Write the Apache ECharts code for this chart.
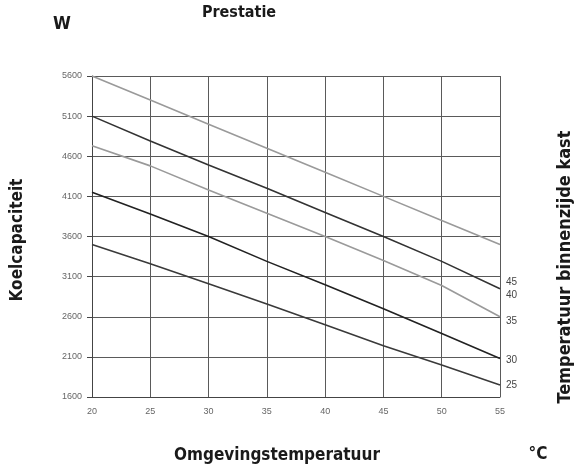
<!DOCTYPE html>
<html>
<head>
<meta charset="utf-8">
<script src="https://cdn.jsdelivr.net/npm/echarts@6/dist/echarts.min.js"></script>
<style>html,body{margin:0;padding:0;background:#fff}#c{width:576px;height:473px}</style>
</head>
<body>
<div id="c"></div>
<script>
const temps = [20, 25, 30, 35, 40, 45, 50, 55];
const s45 = [5600, 5300, 5000, 4700, 4400, 4100, 3800, 3500];
const s40 = [5100, 4790, 4490, 4200, 3900, 3600, 3290, 2950];
const s35 = [4730, 4480, 4180, 3890, 3600, 3300, 2990, 2600];
const s30 = [4150, 3880, 3600, 3290, 3000, 2700, 2390, 2080];
const s25 = [3500, 3260, 3010, 2760, 2500, 2240, 2000, 1750];
const seriesNames = ['45', '40', '35', '30', '25'];
const seriesData = [s45, s40, s35, s30, s25];
const yTicks = [1600, 2100, 2600, 3100, 3600, 4100, 4600, 5100, 5600];

const colors = ['#9a9a9a', '#333333', '#9a9a9a', '#222222', '#3a3a3a'];
const labelOffsets = [[0, 38], [0, 7], [0, 4], [0, 2], [0, 0]];
const boldFont = "'DejaVu Sans Condensed', 'Liberation Sans Narrow', sans-serif";

const chart = echarts.init(document.getElementById('c'));
chart.setOption({
  animation: false,
  backgroundColor: '#fff',
  title: {
    text: 'Prestatie', left: 234, top: 0, textAlign: 'center',
    textStyle: { fontFamily: boldFont, fontWeight: 'bold', fontSize: 16, color: '#1a1a1a' }
  },
  grid: { left: 92, right: 76, top: 76, bottom: 76 },
  xAxis: {
    type: 'value', min: 20, max: 55, interval: 5,
    axisLine: { show: true, lineStyle: { color: '#444', width: 1 } },
    axisTick: { show: false },
    axisLabel: { margin: 10, fontSize: 9, color: '#666', fontFamily: 'Liberation Sans' },
    splitLine: { show: true, lineStyle: { color: '#5a5a5a', width: 1 } }
  },
  yAxis: {
    type: 'value', min: yTicks[0], max: yTicks[yTicks.length - 1], interval: 500,
    axisLine: { show: true, lineStyle: { color: '#444', width: 1 } },
    axisTick: { show: true, inside: false, length: 5, lineStyle: { color: '#444' } },
    axisLabel: { margin: 10, fontSize: 9, color: '#666', fontFamily: 'Liberation Sans', formatter: v => String(v) },
    splitLine: { show: true, lineStyle: { color: '#5a5a5a', width: 1 } }
  },
  series: seriesNames.map((n, i) => ({
    name: n, type: 'line', symbol: 'none',
    data: temps.map((t, j) => [t, seriesData[i][j]]),
    lineStyle: { color: colors[i], width: 1.6 },
    endLabel: {
      show: true, formatter: n, distance: 6, offset: labelOffsets[i],
      fontSize: 10, color: '#444', fontFamily: 'Liberation Sans'
    }
  })),
  graphic: [
    { type: 'text', left: 53, top: 15, style: { text: 'W', font: "bold 18px " + boldFont, fill: '#1a1a1a' } },
    { type: 'text', x: 18, y: 240, rotation: Math.PI / 2,
      style: { text: 'Koelcapaciteit', font: "bold 17px " + boldFont, fill: '#1a1a1a', align: 'center', verticalAlign: 'middle' } },
    { type: 'text', x: 565, y: 267, rotation: Math.PI / 2,
      style: { text: 'Temperatuur binnenzijde kast', font: "bold 18px " + boldFont, fill: '#1a1a1a', align: 'center', verticalAlign: 'middle' } },
    { type: 'text', x: 277, y: 456,
      style: { text: 'Omgevingstemperatuur', font: "bold 17px " + boldFont, fill: '#1a1a1a', align: 'center', verticalAlign: 'middle' } },
    { type: 'text', x: 538, y: 455,
      style: { text: '°C', font: "bold 17px " + boldFont, fill: '#1a1a1a', align: 'center', verticalAlign: 'middle' } }
  ]
});
</script>
</body>
</html>
